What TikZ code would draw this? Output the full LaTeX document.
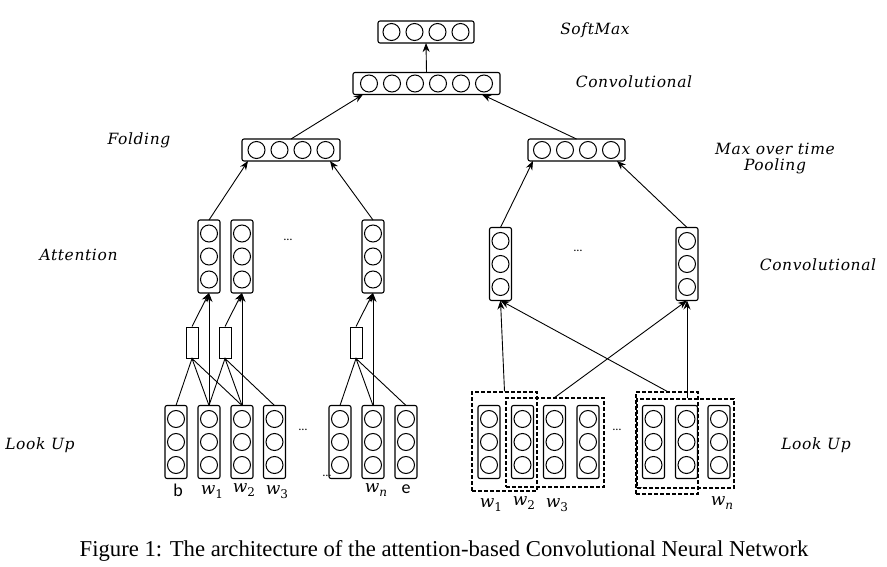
\documentclass[tikz,border=0pt]{standalone}
\usepackage{fontspec}
\usetikzlibrary{arrows.meta,calc}
\newfontfamily\capfont{Liberation Serif}
\newfontfamily\calfont{Carlito}
\newfontfamily\labfont[LetterSpace=4]{DejaVu Serif}
\newfontfamily\wfont{DejaVu Serif}
\newcommand\wl[1]{{\wfont\itshape\fontsize{17}{20}\selectfont w\raisebox{-3.5pt}{\fontsize{12}{12}\selectfont #1}}}
\tikzset{
  box/.style={draw, line width=1.1pt, rounded corners=2pt, inner sep=0pt, outer sep=0pt},
  vcolbox/.style={box, minimum width=22pt, minimum height=73pt},
  circ/.style={line width=1pt},
  smallrect/.style={draw, line width=1pt, inner sep=0pt, minimum width=12pt, minimum height=31pt},
  dbox/.style={draw, dashed, line width=1.4pt, dash pattern=on 4pt off 2pt, inner sep=0pt},
  arr/.style={-{Stealth[length=9pt,width=7pt]}, line width=0.9pt},
  ln/.style={line width=0.9pt},
  lab/.style={font=\labfont\itshape\fontsize{15.5}{19}\selectfont, align=center},
  wlab/.style={inner sep=0pt},
  clab/.style={font=\calfont\fontsize{18}{20}\selectfont},
  dots/.style={font=\calfont\fontsize{12}{14}\selectfont},
}
\newcommand\vcol[3]{%
  \node[vcolbox] (#1) at (#2,#3) {};
  \foreach \dy in {-23,0,23} \draw[circ] ($(#1.center)+(0,\dy)$) circle[radius=8.5pt];}
\newcommand\hrow[5]{%
  \node[box, minimum width=#4pt, minimum height=22pt] (#1) at (#2,#3) {};
  \foreach \i in {1,...,#5} \draw[circ] ($(#1.center)+({(\i-(#5+1)/2)*23},0)$) circle[radius=8.5pt];}
\begin{document}
\begin{tikzpicture}[x=1pt,y=-1pt]
\useasboundingbox[fill=white] (0,0) rectangle (887,567);
% top rows
\hrow{sm}{426}{32}{96}{4}
\hrow{cv}{426.5}{83.5}{147}{6}
\hrow{fold}{291}{150}{98}{4}
\hrow{pool}{576.5}{150}{97}{4}
% attention columns
\vcol{a1}{209}{256.5}
\vcol{a2}{242}{256.5}
\vcol{a3}{373}{256.5}
% conv columns
\vcol{c1}{500.5}{264}
\vcol{c2}{687}{264}
% small rects
\node[smallrect] (r1) at (192,342.5) {};
\node[smallrect] (r2) at (225,342.5) {};
\node[smallrect] (r3) at (356,342.5) {};
% lookup left
\vcol{lb}{176}{442}
\vcol{l1}{209}{442}
\vcol{l2}{242}{442}
\vcol{l3}{274.5}{442}
\vcol{l4}{340}{442}
\vcol{ln}{373}{442}
\vcol{le}{406}{442}
% lookup right
\vcol{R1}{489}{442}
\vcol{R2}{522.5}{442}
\vcol{R3}{554.5}{442}
\vcol{R4}{588}{442}
\vcol{R5}{653.5}{442}
\vcol{R6}{686.5}{442}
\vcol{R7}{719}{442}
% dashed windows
\node[dbox, minimum width=65pt, minimum height=99pt] (dA) at (504.5,441.5) {};
\node[dbox, minimum width=98pt, minimum height=89pt] (dB) at (555,442.5) {};
\node[dbox, minimum width=62pt, minimum height=102pt] (dC) at (667,443) {};
\node[dbox, minimum width=97pt, minimum height=89pt] (dD) at (685.5,443.5) {};
% top connectors
\draw[arr] (cv.north) -- (sm.south);
\draw[arr] (fold.north) -- ([xshift=10pt]cv.south west);
\draw[arr] (pool.north) -- ([xshift=-18pt]cv.south east);
\draw[arr] (a1.north) -- ([xshift=6pt]fold.south west);
\draw[arr] (a3.north) -- ([xshift=-10pt]fold.south east);
\draw[arr] (c1.north) -- ([xshift=5pt]pool.south west);
\draw[arr] (c2.north) -- ([xshift=-8pt]pool.south east);
% attention connectors
\draw[arr] (r1.north) -- (a1.south);
\draw[arr] (l1.north) -- (a1.south);
\draw[arr] (r2.north) -- (a2.south);
\draw[arr] (l2.north) -- (a2.south);
\draw[arr] (r3.north) -- (a3.south);
\draw[arr] (ln.north) -- (a3.south);
\draw[ln] (lb.north) -- (r1.south) -- (l1.north) (r1.south) -- (l2.north);
\draw[ln] (l1.north) -- (r2.south) -- (l2.north) (r2.south) -- (l3.north);
\draw[ln] (l4.north) -- (r3.south) -- (ln.north) (r3.south) -- (le.north);
% convolution connectors
\draw[arr] (dA.north) -- (c1.south);
\draw[arr] (dB.north) -- (c2.south);
\draw[arr] (dC.north) -- (c1.south);
\draw[arr] (c2.south |- dD.north) -- (c2.south);
% dots
\node[dots] (d1) at (288,240) {\dots};
\node[dots] (d2) at (303,430) {\dots};
\node[dots] (d3) at (327,476) {\dots};
\node[dots] (d4) at (578,251) {\dots};
\node[dots] (d5) at (617,430) {\dots};
\node[dots, font=\calfont\fontsize{8}{9}\selectfont] (d6) at (640,488) {\dots};
% word labels
\node[clab] (tb) at (178,490) {b};
\node[wlab] (tw1) at (212,492) {\wl{\upshape 1}};
\node[wlab] (tw2) at (244,490) {\wl{\upshape 2}};
\node[wlab] (tw3) at (277,492) {\wl{\upshape 3}};
\node[wlab] (twn) at (376,490) {\wl{n}};
\node[clab] (te) at (406,489) {e};
\node[wlab] (rw1) at (491,505) {\wl{\upshape 1}};
\node[wlab] (rw2) at (524,503) {\wl{\upshape 2}};
\node[wlab] (rw3) at (557,505) {\wl{\upshape 3}};
\node[wlab] (rwn) at (722,503) {\wl{n}};
% layer labels
\node[lab] (Lsm) at (595,30) {SoftMax};
\node[lab] (Lcv) at (634,82) {Convolutional};
\node[lab] (Lfold) at (139,140) {Folding};
\node[lab] (Lpool) at (775,159) {Max over time\\[-3pt]Pooling};
\node[lab] (Latt) at (78.5,255) {Attention};
\node[lab] (Lcv2) at (818,265) {Convolutional};
\node[lab] (Llu1) at (40,445) {Look Up};
\node[lab] (Llu2) at (816,445) {Look Up};
% caption
\node[font=\capfont\fontsize{22.7}{26}\selectfont] (cap) at (444,551) {Figure 1: The architecture of the attention-based Convolutional Neural Network};
\end{tikzpicture}
\end{document}
